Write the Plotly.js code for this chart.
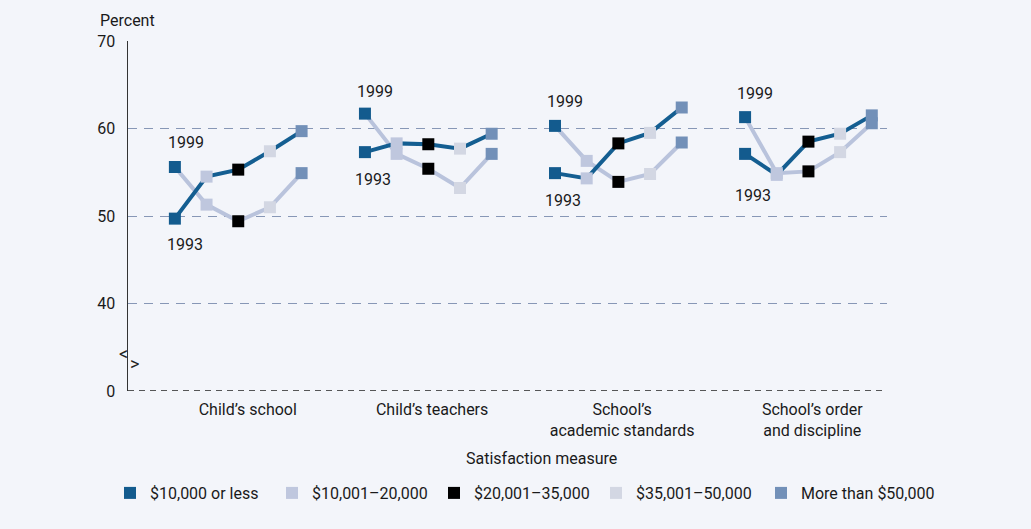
<!DOCTYPE html>
<html>
<head>
<meta charset="utf-8">
<script src="https://cdn.plot.ly/plotly-3.0.1.min.js"></script>
<style>
  html, body { margin: 0; padding: 0; background: #f3f5fa; }
  #chart { width: 1031px; height: 529px; }
</style>
</head>
<body>
<div id="chart"></div>
<script>
// ---- Data ----
const measures = ["Child’s school", "Child’s teachers", "School’s<br>academic standards", "School’s order<br>and discipline"];
const incomes = ["$10,000 or less", "$10,001–20,000", "$20,001–35,000", "$35,001–50,000", "More than $50,000"];
const yTickVals = [30, 40, 50, 60, 70];
const yTickText = ["0", "40", "50", "60", "70"];

// Percent satisfied, by income group, one value per satisfaction measure
const under10k_1993 = [49.7, 57.3, 54.9, 57.1];
const under10k_1999 = [55.6, 61.7, 60.3, 61.3];
const inc10to20_1993 = [54.5, 58.3, 54.3, 54.7];
const inc10to20_1999 = [51.3, 57.1, 56.3, 54.9];
const inc20to35_1993 = [55.3, 58.2, 58.3, 58.5];
const inc20to35_1999 = [49.4, 55.4, 53.9, 55.1];
const inc35to50_1993 = [57.4, 57.7, 59.5, 59.4];
const inc35to50_1999 = [51.0, 53.2, 54.8, 57.3];
const over50k_1993 = [59.7, 59.4, 62.4, 61.5];
const over50k_1999 = [54.9, 57.1, 58.4, 60.6];

const series1993 = [under10k_1993, inc10to20_1993, inc20to35_1993, inc35to50_1993, over50k_1993];
const series1999 = [under10k_1999, inc10to20_1999, inc20to35_1999, inc35to50_1999, over50k_1999];

// ---- Styling ----
const markerColors = ["#135b8e", "#bfc7de", "#000000", "#d3d7e3", "#7290b8"];
const line1993Color = "#145e91";
const line1999Color = "#b9c3dc";
const FONT = "Roboto, 'Liberation Sans', Arial, sans-serif";
const GAP = 6; // x-units between groups
const xOf = (g, i) => g * GAP + i;
const labelNudge = [0.3, 0.12, 0.12, 0.12];

function lineTrace(series, color) {
  const x = [], y = [];
  measures.forEach((m, g) => {
    series.forEach((s, i) => { x.push(xOf(g, i)); y.push(s[g]); });
    x.push(null); y.push(null);
  });
  return { type: "scatter", mode: "lines", x, y, showlegend: false, hoverinfo: "skip",
           line: { color, width: 4 }, connectgaps: false };
}

const traces = [lineTrace(series1999, line1999Color), lineTrace(series1993, line1993Color)];

incomes.forEach((name, i) => {
  const x = [], y = [];
  measures.forEach((m, g) => {
    x.push(xOf(g, i)); y.push(series1993[i][g]);
    x.push(xOf(g, i)); y.push(series1999[i][g]);
  });
  traces.push({ type: "scatter", mode: "markers", name, x, y,
    legend: i === incomes.length - 1 ? "legend2" : "legend",
    marker: { symbol: "square", size: 12, color: markerColors[i] } });
});

// year labels near the first point of each group
const labelShift1999 = [[11, 25], [10, 22], [10, 24], [10, 24]];
const labelShift1993 = [[10, -26], [8, -27], [8, -27], [8, -42]];
const annotations = [];
measures.forEach((m, g) => {
  annotations.push({ x: xOf(g, 0), y: under10k_1999[g], xref: "x", yref: "y", text: "1999",
    showarrow: false, xshift: labelShift1999[g][0], yshift: labelShift1999[g][1],
    font: { family: FONT, size: 16, color: "#1a1a1a" } });
  annotations.push({ x: xOf(g, 0), y: under10k_1993[g], xref: "x", yref: "y", text: "1993",
    showarrow: false, xshift: labelShift1993[g][0], yshift: labelShift1993[g][1],
    font: { family: FONT, size: 16, color: "#1a1a1a" } });
});
annotations.push({ xref: "paper", yref: "paper", x: -0.0013, y: 1.0, yshift: 21, xanchor: "center", yanchor: "middle",
  text: "Percent", showarrow: false, font: { family: FONT, size: 16, color: "#1a1a1a" } });
annotations.push({ xref: "paper", yref: "paper", x: 0.545, y: 0, yshift: -67, xanchor: "center", yanchor: "middle",
  text: "Satisfaction measure", showarrow: false, font: { family: FONT, size: 16, color: "#1a1a1a" } });
// axis break marks
annotations.push({ xref: "paper", yref: "y", x: -0.0092, xshift: -4, y: 34.3, text: "<", showarrow: false,
  font: { family: FONT, size: 18, color: "#222" } });
annotations.push({ xref: "paper", yref: "y", x: 0.0072, xshift: -5, y: 33.1, text: ">", showarrow: false,
  font: { family: FONT, size: 18, color: "#222" } });

const legendCommon = {
  orientation: "h", xref: "container", yref: "container", yanchor: "middle", xanchor: "left",
  y: (529 - 493) / 529, bgcolor: "rgba(0,0,0,0)",
  font: { family: FONT, size: 16, color: "#1a1a1a" }, itemclick: false
};

const layout = {
  width: 1031, height: 529,
  margin: { l: 128, r: 144, t: 41, b: 138, pad: 0 },
  paper_bgcolor: "#f3f5fa", plot_bgcolor: "#f3f5fa",
  font: { family: FONT, size: 16, color: "#1a1a1a" },
  showlegend: true,
  legend: Object.assign({}, legendCommon, { x: 110 / 1031, entrywidth: 117, entrywidthmode: "pixels" }),
  legend2: Object.assign({}, legendCommon, { x: 761 / 1031 }),
  xaxis: {
    range: [-1.48, 3 * GAP + 4 + 0.48], tickmode: "array",
    tickvals: measures.map((m, g) => xOf(g, 2) + labelNudge[g]), ticktext: measures,
    showgrid: false, zeroline: false, showline: false,
    ticks: "outside", ticklen: 4, tickcolor: "rgba(0,0,0,0)", fixedrange: true,
    tickfont: { family: FONT, size: 16, color: "#1a1a1a" }
  },
  yaxis: {
    range: [30, 70], tickmode: "array", tickvals: yTickVals, ticktext: yTickText,
    showgrid: true, gridcolor: "#8797b6", gridwidth: 1, griddash: "9px,7px",
    zeroline: false, showline: true, linecolor: "#333", linewidth: 1.5,
    ticks: "outside", ticklen: 8, tickcolor: "rgba(0,0,0,0)", fixedrange: true,
    tickfont: { family: FONT, size: 16, color: "#1a1a1a" }
  },
  shapes: [
    { type: "line", xref: "paper", yref: "y", x0: 0, x1: 1, y0: 30, y1: 30,
      line: { color: "#222", width: 1.5, dash: "6px,5px" } }
  ],
  annotations
};

Plotly.newPlot("chart", traces, layout, { displayModeBar: false, staticPlot: true });
</script>
</body>
</html>
